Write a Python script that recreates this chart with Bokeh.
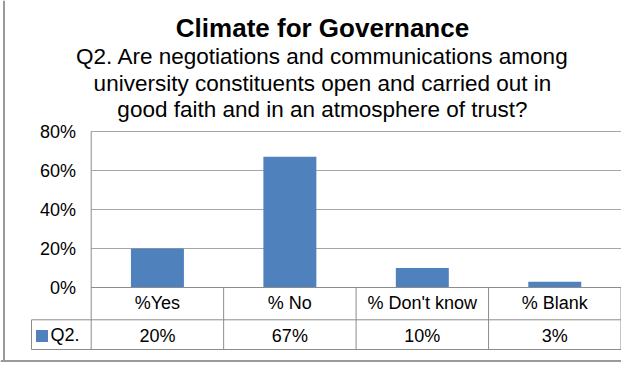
from bokeh.plotting import figure
from bokeh.models import Range1d, Label, Legend, LegendItem, ColumnDataSource
from bokeh.embed import file_html
from bokeh.resources import INLINE
from bokeh.core.properties import value

# ---- data ----
title_text = "Climate for Governance"
subtitle_lines = [
    "Q2. Are negotiations and communications among",
    "university constituents open and carried out in",
    "good faith and in an atmosphere of trust?",
]
categories = ["%Yes", "% No", "% Don't know", "% Blank"]
series_name = "Q2."
values = [0.20, 0.67, 0.10, 0.03]
value_labels = ["20%", "67%", "10%", "3%"]
y_ticks = [0.0, 0.2, 0.4, 0.6, 0.8]
y_tick_labels = ["0%", "20%", "40%", "60%", "80%"]

# ---- layout (canvas pixels) ----
W, H = 621, 362
X0_PX = 90.7          # pixel of the value axis
COL_W = (620.5 - X0_PX) / len(categories)
Y0_PX = 287.0         # pixel of the 0% line
PPU = 195.0           # pixels per 100%


def fx(px):
    return (px - X0_PX) / COL_W


def fy(px):
    return (Y0_PX - px) / PPU


FONT = "Liberation Sans"
GRID = "#a6a6a6"
LINE = "#8c8c8c"
BLUE = "#4F81BD"

p = figure(width=W, height=H, output_backend="svg", toolbar_location=None,
           x_range=Range1d(fx(0), fx(W)), y_range=Range1d(fy(H), fy(0)),
           min_border=0)
p.outline_line_color = None
p.background_fill_color = "white"
p.border_fill_color = "white"
p.axis.visible = False
p.grid.visible = False

n = len(categories)
xs = [i + 0.5 for i in range(n)]
src = ColumnDataSource(dict(x=xs, cat=categories, val=values, lab=value_labels))

# chart area border (left and bottom)
p.segment(x0=[fx(3.5), fx(0)], y0=[fy(0), fy(360.5)], x1=[fx(3.5), fx(W)], y1=[fy(360.5), fy(360.5)],
          line_color="#9a9a9a", line_width=2)

# gridlines
p.segment(x0=[0] * len(y_ticks), y0=y_ticks, x1=[n] * len(y_ticks), y1=y_ticks,
          line_color=GRID, line_width=1)

bars = p.vbar(x="x", top="val", width=0.4, source=src, fill_color=BLUE, line_color=None)

# table
row_div = fy(319.3)
tbl_bot = fy(349)
p.segment(x0=[0, fx(31), fx(31)], y0=[0, row_div, tbl_bot], x1=[n, n, n], y1=[0, row_div, tbl_bot],
          line_color=LINE, line_width=1)
vx = [0] + list(range(1, n + 1)) + [fx(31)]
vy0 = [tbl_bot] * (n + 2)
vy1 = [y_ticks[-1]] + [0] * n + [row_div]
p.segment(x0=vx, y0=vy0, x1=vx, y1=vy1, line_color=LINE, line_width=1)

# y tick labels
p.text(x=[fx(75.5)] * len(y_ticks), y=y_ticks, text=y_tick_labels, text_align="right",
       text_baseline="middle", text_font=value(FONT), text_font_size="18px", text_color="black")

# table text
p.text(x="x", y=fy(302.7), text="cat", source=src, text_align="center",
       text_baseline="middle", text_font=value(FONT), text_font_size="18px", text_color="black")
p.text(x="x", y=fy(335.7), text="lab", source=src, text_align="center",
       text_baseline="middle", text_font=value(FONT), text_font_size="18px", text_color="black")

leg = Legend(items=[LegendItem(label=series_name, renderers=[bars])],
             location=(33.5, 16), padding=5, margin=0, glyph_width=15, glyph_height=15,
             label_height=15, label_standoff=2, border_line_color=None,
             background_fill_alpha=0, label_text_font=FONT, label_text_font_size="18px",
             label_text_color="black")
p.add_layout(leg)

# titles
cx = fx(322)
p.add_layout(Label(x=cx, y=fy(27.3), text=title_text, text_align="center",
                   text_baseline="alphabetic", text_font=FONT, text_font_size="26px",
                   text_font_style="bold", text_color="black"))
for line, base in zip(subtitle_lines, [56.0, 82.5, 109.0]):
    p.add_layout(Label(x=cx, y=fy(base), text=line, text_align="center",
                       text_baseline="alphabetic", text_font=FONT, text_font_size="22.5px",
                       text_color="black"))

open("out.html", "w").write(file_html(p, INLINE))
